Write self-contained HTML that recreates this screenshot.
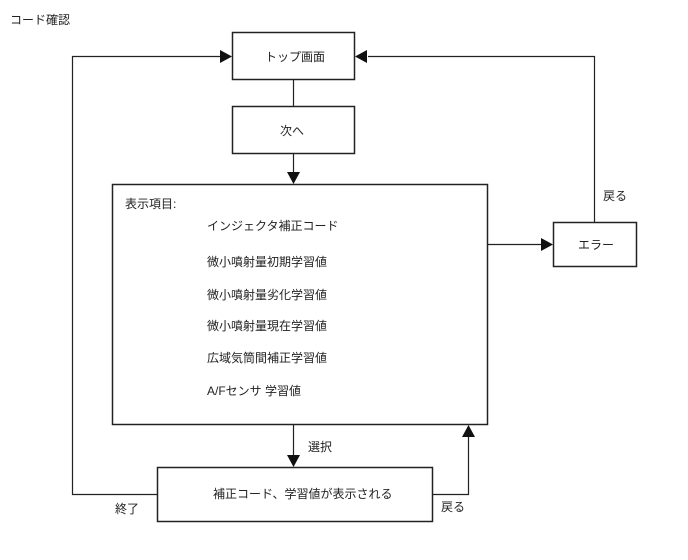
<!DOCTYPE html>
<html><head><meta charset="utf-8"><style>
html,body{margin:0;padding:0;background:#fff;width:688px;height:560px;overflow:hidden}
svg{display:block}
text{font-family:"Liberation Sans","Noto Sans CJK JP",sans-serif;font-size:12px;fill:#222}
</style></head><body>
<svg width="688" height="560" xmlns="http://www.w3.org/2000/svg">
<g fill="#fff" stroke="#222" stroke-width="1.5">
<rect x="232.5" y="32.5" width="122" height="47"/>
<rect x="232.5" y="106.5" width="122" height="47"/>
<rect x="112.5" y="184.5" width="375" height="240"/>
<rect x="553.5" y="222.5" width="83" height="44"/>
<rect x="157.5" y="467.5" width="275" height="54"/>
</g>
<g fill="none" stroke="#222" stroke-width="1.2">
<line x1="293.5" y1="80" x2="293.5" y2="106"/>
<line x1="293.5" y1="154" x2="293.5" y2="172"/>
<line x1="488" y1="244.5" x2="541" y2="244.5"/>
<polyline points="594.5,222 594.5,56.5 368,56.5"/>
<polyline points="157,494.5 72.5,494.5 72.5,56.5 220,56.5"/>
<line x1="293.5" y1="425" x2="293.5" y2="455"/>
<polyline points="433,494.5 468.5,494.5 468.5,437"/>
</g>
<g fill="#111">
<polygon points="287,172 300,172 293.5,184"/>
<polygon points="541,238 541,251 553,244.5"/>
<polygon points="367,50 367,63 355,56.5"/>
<polygon points="220,50 220,63 232,56.5"/>
<polygon points="287,455 300,455 293.5,467"/>
<polygon points="462,437 475,437 468.5,425"/>
</g>
<text x="10" y="24">コード確認</text>
<text x="265" y="61">トップ画面</text>
<text x="280" y="135">次へ</text>
<text x="125" y="208">表示項目:</text>
<text x="207" y="230">インジェクタ補正コード</text>
<text x="207" y="266">微小噴射量初期学習値</text>
<text x="207" y="299">微小噴射量劣化学習値</text>
<text x="207" y="330">微小噴射量現在学習値</text>
<text x="207" y="362">広域気筒間補正学習値</text>
<text x="207" y="395">A/Fセンサ 学習値</text>
<text x="578" y="249">エラー</text>
<text x="603" y="200">戻る</text>
<text x="308" y="451">選択</text>
<text x="213" y="498">補正コード、学習値が表示される</text>
<text x="115" y="513">終了</text>
<text x="441" y="511">戻る</text>
</svg>
</body></html>
